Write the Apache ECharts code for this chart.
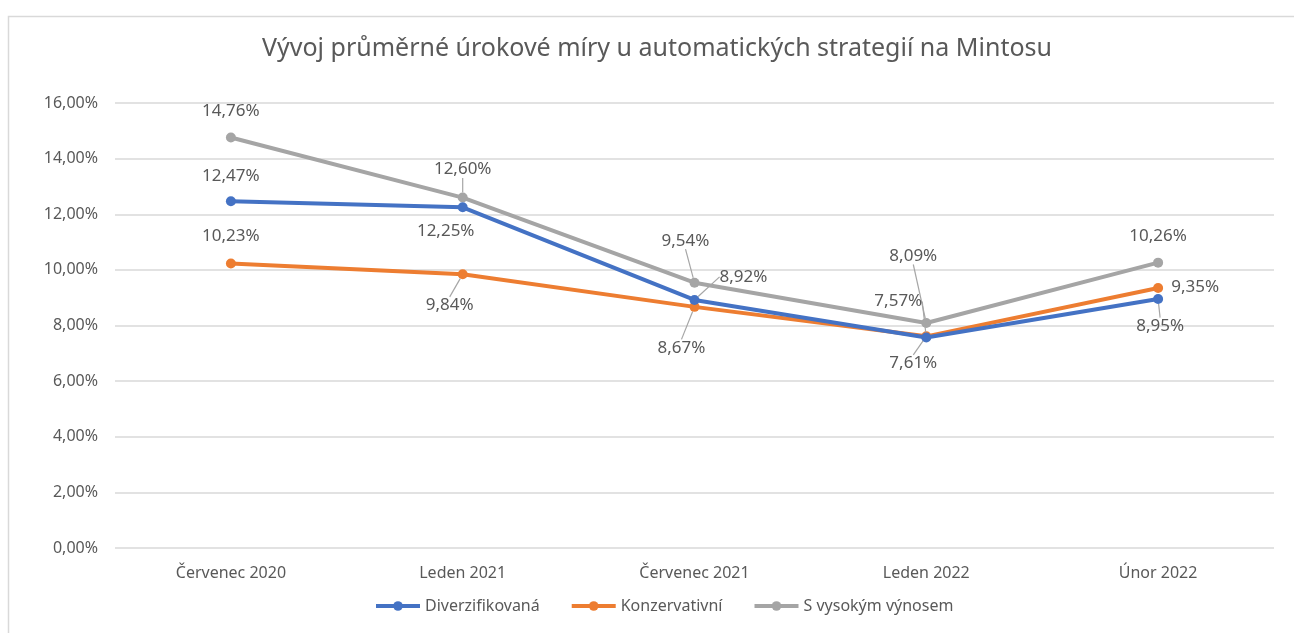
<!DOCTYPE html>
<html>
<head>
<meta charset="utf-8">
<script src="https://cdn.jsdelivr.net/npm/echarts@6/dist/echarts.min.js"></script>
<style>
html, body { margin: 0; padding: 0; background: #fff; }
#chartBox { width: 1294px; height: 633px; }
</style>
</head>
<body>
<div id="chartBox"></div>
<script>
var categories = ['Červenec 2020', 'Leden 2021', 'Červenec 2021', 'Leden 2022', 'Únor 2022'];
var seriesNames = ['Diverzifikovaná', 'Konzervativní', 'S vysokým výnosem'];
var diverzifikovana = [12.47, 12.25, 8.92, 7.57, 8.95];
var konzervativni = [10.23, 9.84, 8.67, 7.61, 9.35];
var vysokyVynos = [14.76, 12.60, 9.54, 8.09, 10.26];

var colors = ['#4472C4', '#ED7D31', '#A5A5A5'];
// label offsets (dx, dy from the point) and whether a leader line is drawn
var labelPos = [
    [[0, -25, 0], [-17, 24, 0], [49, -23, 1], [-28, -36, 1], [2, 27, 1]],
    [[0, -27, 0], [-13, 31, 1], [-13, 41, 1], [-13, 27, 1], [37, -1, 0]],
    [[0, -26, 0], [0, -28, 1], [-9, -42, 1], [-13, -67, 1], [0, -26, 0]]
];

function fmt(v) {
    return v.toFixed(2).replace('.', ',') + '%';
}

var dom = document.getElementById('chartBox');
var myChart = echarts.init(dom);

function makeSeries(idx, values) {
    return {
        name: seriesNames[idx],
        type: 'line',
        data: values.map(function (v, i) {
            return {value: v, labelLine: {show: !!labelPos[idx][i][2]}};
        }),
        symbol: 'circle',
        symbolSize: 10,
        z: idx === 2 ? 1 : (idx === 0 ? 3 : 2),
        lineStyle: {width: 4, color: colors[idx]},
        itemStyle: {color: colors[idx]},
        label: {
            show: true,
            position: 'inside',
            color: '#595959',
            fontSize: 17,
            fontFamily: 'Noto Sans',
            formatter: function (p) { return fmt(p.value); }
        },
        labelLine: {
            show: false,
            lineStyle: {color: '#A6A6A6', width: 1.2}
        },
        labelLayout: function (p) {
            var o = labelPos[idx][p.dataIndex];
            return {dx: o[0], dy: o[1]};
        },
        emphasis: {disabled: true}
    };
}

var option = {
    animation: false,
    color: colors,
    textStyle: {fontFamily: 'Noto Sans'},
    title: {
        text: 'Vývoj průměrné úrokové míry u automatických strategií na Mintosu',
        left: 652,
        top: 31,
        textAlign: 'center',
        textStyle: {color: '#595959', fontSize: 25, fontWeight: 'normal', fontFamily: 'Noto Sans'}
    },
    graphic: [{
        type: 'rect',
        left: 6,
        top: 14,
        shape: {width: 1310, height: 640},
        style: {fill: 'none', stroke: '#D9D9D9', lineWidth: 1.5},
        silent: true
    }],
    legend: {
        bottom: 14,
        left: 369,
        itemWidth: 44,
        itemHeight: 12,
        itemGap: 30,
        lineStyle: {width: 4},
        textStyle: {color: '#595959', fontSize: 16, fontFamily: 'Noto Sans'},
        data: seriesNames
    },
    grid: {left: 115, right: 20, top: 103, bottom: 85},
    xAxis: {
        type: 'category',
        data: categories,
        axisTick: {show: false},
        axisLine: {show: false},
        axisLabel: {color: '#595959', fontSize: 16, margin: 17}
    },
    yAxis: {
        type: 'value',
        min: 0,
        max: 16,
        interval: 2,
        axisLine: {show: false},
        axisTick: {show: false},
        axisLabel: {color: '#595959', fontSize: 16, margin: 17, formatter: fmt},
        splitLine: {lineStyle: {color: '#D9D9D9', width: 1.5}}
    },
    series: [
        makeSeries(2, vysokyVynos),
        makeSeries(1, konzervativni),
        makeSeries(0, diverzifikovana)
    ]
};

myChart.setOption(option);
</script>
</body>
</html>
